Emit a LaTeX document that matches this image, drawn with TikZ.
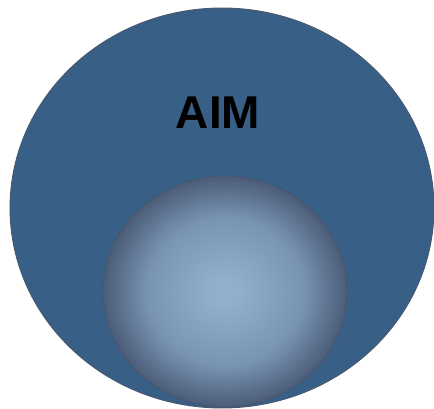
\documentclass[tikz,border=0pt]{standalone}
\usepackage{fontspec}
\setmainfont{Liberation Sans}
\usetikzlibrary{shapes.geometric}
\definecolor{outerblue}{HTML}{386086}
\definecolor{rimgray}{HTML}{47566C}
\definecolor{ballhi}{HTML}{91AECB}
\definecolor{ballmid}{HTML}{7894B2}
\definecolor{balllo}{HTML}{4B5C78}
\pgfdeclareradialshading{ballshade}{\pgfpoint{0bp}{0bp}}{%
  color(0bp)=(ballhi); color(3bp)=(ballhi); color(16bp)=(ballmid);
  color(25bp)=(balllo); color(50bp)=(balllo)}

\begin{document}
\begin{tikzpicture}[x=1pt, y=-1pt,
  oval/.style={ellipse, draw=rimgray, line width=0.9pt, inner sep=0pt},
  lbl/.style={font=\fontsize{46}{50}\selectfont\bfseries, text=black, inner sep=0pt}]
\useasboundingbox (0,0) rectangle (434,409);
\node[oval, fill=outerblue, minimum width=424pt, minimum height=400pt] (outer) at (222,208) {};
\node[oval, shading=ballshade, minimum width=244pt, minimum height=231pt] (inner) at (225,291.5) {};
\node[lbl] (aim) at (218,113) {AIM};
\end{tikzpicture}
\end{document}
